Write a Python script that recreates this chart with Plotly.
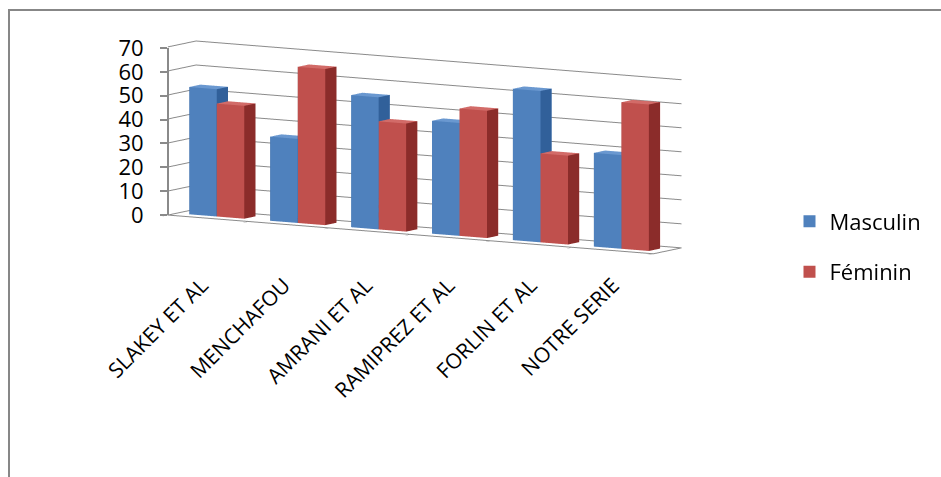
import math
import plotly.graph_objects as go

# Sex distribution (%) reported by each series
categories = ["SLAKEY ET AL", "MENCHAFOU", "AMRANI ET AL", "RAMIPREZ ET AL", "FORLIN ET AL", "NOTRE SERIE"]
masculin = [53, 35, 55, 47, 63, 39]
feminin = [47, 65, 45, 53, 37, 61]
z_ticks = [0, 10, 20, 30, 40, 50, 60, 70]

FONT = "Open Sans"
GRID = "#8a8a8a"

# per-series colours: front, side, top
PALETTE = {
    "Masculin": ("#4F81BD", "#31609A", "#6A98D0"),
    "Féminin": ("#C0504D", "#8B2C2A", "#D26B68"),
}

BAR_W = 0.34      # width of each column along the category axis
Y0, Y1 = 0.3, 0.7  # depth of each column


def box_mesh(values, offset, colors):
    front, side, top = colors
    xs, ys, zs, ii, jj, kk, fc = [], [], [], [], [], [], []
    for idx, h in enumerate(values):
        x0 = idx + offset
        x1 = x0 + BAR_W
        base = len(xs)
        pts = [(x0, Y0, 0), (x1, Y0, 0), (x1, Y1, 0), (x0, Y1, 0),
               (x0, Y0, h), (x1, Y0, h), (x1, Y1, h), (x0, Y1, h)]
        for p in pts:
            xs.append(p[0]); ys.append(p[1]); zs.append(p[2])
        faces = [
            ((0, 1, 5), front), ((0, 5, 4), front),
            ((1, 2, 6), side), ((1, 6, 5), side),
            ((4, 5, 6), top), ((4, 6, 7), top),
            ((3, 2, 6), front), ((3, 6, 7), front),
            ((0, 3, 7), side), ((0, 7, 4), side),
            ((0, 1, 2), front), ((0, 2, 3), front),
        ]
        for (a, b, c), col in faces:
            ii.append(base + a); jj.append(base + b); kk.append(base + c); fc.append(col)
    return go.Mesh3d(
        x=xs, y=ys, z=zs, i=ii, j=jj, k=kk, facecolor=fc,
        flatshading=True,
        lighting=dict(ambient=1.0, diffuse=0.0, specular=0.0, fresnel=0.0, roughness=1.0),
        hoverinfo="skip", showlegend=False, showscale=False,
    )


fig = go.Figure()
fig.add_trace(box_mesh(masculin, -BAR_W, PALETTE["Masculin"]))
fig.add_trace(box_mesh(feminin, 0.0, PALETTE["Féminin"]))

# 2D axes: rotated category labels, value labels on the left, legend entries
fig.add_trace(go.Bar(x=[categories[0]], y=[0], name="Masculin", marker=dict(color=PALETTE["Masculin"][0], line=dict(width=0)),
                     legendgroup="m", xaxis="x", yaxis="y"))
fig.add_trace(go.Bar(x=[categories[0]], y=[0], name="Féminin", marker=dict(color=PALETTE["Féminin"][0], line=dict(width=0)),
                     legendgroup="f", xaxis="x", yaxis="y"))
fig.add_trace(go.Scatter(x=categories, y=[None] * len(categories), mode="markers", showlegend=False,
                         hoverinfo="skip", xaxis="x", yaxis="y"))
fig.add_trace(go.Scatter(x=[None], y=z_ticks, mode="markers", showlegend=False,
                         hoverinfo="skip", xaxis="x", yaxis="y2"))

# camera: orthographic view from front-right, slightly above
az, el, dist = math.radians(31.6), math.radians(7.45), 2.86
right = (math.cos(az), math.sin(az), 0.0)
up = (-math.sin(az) * math.sin(el), math.cos(az) * math.sin(el), math.cos(el))
shift_r, shift_u = 0.192, -0.382
look = dict(x=shift_r * right[0] + shift_u * up[0],
            y=shift_r * right[1] + shift_u * up[1],
            z=shift_r * right[2] + shift_u * up[2])
eye = dict(x=look["x"] + dist * math.sin(az) * math.cos(el),
           y=look["y"] - dist * math.cos(az) * math.cos(el),
           z=look["z"] + dist * math.sin(el))

axis3d = dict(showbackground=False, showspikes=False, title=dict(text=""), zeroline=False)

fig.update_layout(
    width=941, height=477,
    margin=dict(l=0, r=0, t=0, b=0, autoexpand=False),
    paper_bgcolor="white",
    plot_bgcolor="rgba(0,0,0,0)",
    font=dict(family=FONT, color="#000000"),
    showlegend=True,
    hovermode=False,
    dragmode=False,
    legend=dict(x=0.839, y=0.58, xanchor="left", yanchor="top", font=dict(size=22, family=FONT),
                tracegroupgap=19, bgcolor="rgba(0,0,0,0)"),
    xaxis=dict(domain=[0.171, 0.681], type="category", categoryorder="array", categoryarray=categories,
               tickangle=-45, tickfont=dict(size=21, family=FONT), showgrid=False, zeroline=False,
               showline=False, ticks="", anchor="y", automargin=False),
    yaxis=dict(domain=[0.438, 0.448], visible=False, range=[0, 1], automargin=False),
    yaxis2=dict(domain=[1 - 215 / 477, 1 - 48 / 477], range=[0, 70], tickvals=z_ticks, anchor="free",
                position=168 / 941, side="left", showgrid=False, zeroline=False, showline=True,
                linecolor=GRID, linewidth=2, ticks="outside", ticklen=7, tickcolor=GRID, tickwidth=2,
                ticklabelstandoff=12, tickfont=dict(size=22, family=FONT), automargin=False),
    scene=dict(
        domain=dict(x=[0.0, 1.0], y=[0.0, 1.0]),
        aspectmode="manual",
        aspectratio=dict(x=2.39, y=0.225, z=0.711),
        camera=dict(eye=eye, center=look, up=dict(x=0, y=0, z=1),
                    projection=dict(type="orthographic")),
        xaxis=dict(axis3d, range=[-0.5, 5.5], tickvals=[i - 0.5 for i in range(7)],
                   showticklabels=False, showgrid=False, showline=True, linecolor=GRID, linewidth=2,
                   ticks="outside", ticklen=8, tickcolor=GRID, tickwidth=2),
        yaxis=dict(axis3d, range=[0, 1], showticklabels=False, showgrid=False, showline=True,
                   linecolor=GRID, linewidth=2, ticks=""),
        zaxis=dict(axis3d, range=[0, 70], tickvals=z_ticks, showgrid=True, gridcolor=GRID, gridwidth=2,
                   showline=False, showticklabels=False, ticks=""),
        bgcolor="rgba(0,0,0,0)",
    ),
    shapes=[dict(type="rect", xref="paper", yref="paper", x0=9 / 941, x1=1.05, y0=-0.05, y1=1 - 10 / 477,
                 line=dict(color="#878787", width=2), fillcolor="rgba(0,0,0,0)", layer="above")],
)

fig.write_html("out.html")
